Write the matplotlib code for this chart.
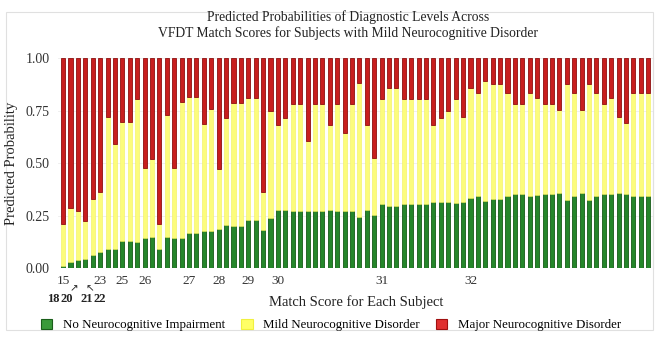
import matplotlib
matplotlib.use("Agg")
import matplotlib.pyplot as plt
import matplotlib.patches as patches
import numpy as np

# predicted probabilities for each of the 80 subjects (sorted by match score)
p_none = [0.011, 0.027, 0.040, 0.043, 0.062, 0.078, 0.090, 0.092, 0.129, 0.129,
          0.122, 0.141, 0.146, 0.090, 0.149, 0.145, 0.145, 0.165, 0.165, 0.178,
          0.176, 0.187, 0.207, 0.200, 0.200, 0.230, 0.230, 0.182, 0.237, 0.274,
          0.275, 0.272, 0.272, 0.270, 0.272, 0.272, 0.275, 0.272, 0.270, 0.272,
          0.244, 0.275, 0.253, 0.306, 0.294, 0.294, 0.306, 0.306, 0.306, 0.306,
          0.313, 0.315, 0.315, 0.308, 0.315, 0.335, 0.343, 0.318, 0.327, 0.327,
          0.343, 0.351, 0.351, 0.343, 0.348, 0.351, 0.351, 0.356, 0.324, 0.343,
          0.356, 0.324, 0.343, 0.351, 0.351, 0.356, 0.351, 0.343, 0.343, 0.343]
p_mild = [0.199, 0.261, 0.230, 0.183, 0.267, 0.282, 0.628, 0.498, 0.569, 0.569,
          0.682, 0.334, 0.372, 0.120, 0.578, 0.330, 0.648, 0.652, 0.652, 0.507,
          0.581, 0.286, 0.510, 0.584, 0.584, 0.580, 0.580, 0.178, 0.512, 0.406,
          0.441, 0.508, 0.508, 0.335, 0.508, 0.508, 0.405, 0.508, 0.372, 0.508,
          0.636, 0.405, 0.270, 0.501, 0.563, 0.563, 0.501, 0.501, 0.501, 0.501,
          0.370, 0.402, 0.434, 0.499, 0.403, 0.522, 0.491, 0.574, 0.551, 0.551,
          0.490, 0.429, 0.429, 0.491, 0.461, 0.429, 0.429, 0.397, 0.554, 0.491,
          0.397, 0.554, 0.491, 0.432, 0.458, 0.365, 0.339, 0.491, 0.491, 0.491]

# match score labels under the first subject of each score group
tick_pos = [0, 5, 8, 11, 17, 21, 25, 29, 43, 55]
tick_labels = ["15", "23", "25", "26", "27", "28", "29", "30", "31", "32"]
# scores squeezed into the first few subjects, written on a second row
extra_labels = ["18", "20", "21", "22"]
extra_pos = [-1.3, 0.5, 3.2, 5.0]

legend_labels = ["No Neurocognitive Impairment", "Mild Neurocognitive Disorder",
                 "Major Neurocognitive Disorder"]

plt.rcParams['font.family'] = ['Liberation Serif', 'DejaVu Sans']

none = np.array(p_none)
mild = np.array(p_mild)
major = 1.0 - none - mild
x = np.arange(len(none))

fig = plt.figure(figsize=(6.66, 3.44), dpi=100)
ax = fig.add_axes([0.087, 0.221, 0.893, 0.61])

w = 0.55
ax.bar(x, none, width=w, color='#25862a', edgecolor='#175a17', linewidth=0.6, zorder=2)
ax.bar(x, mild, width=w, bottom=none, color='#fcfc7c', edgecolor='#f2f25a', linewidth=0.4, zorder=2)
ax.bar(x, major, width=w, bottom=none + mild, color='#c81e1e', edgecolor='#8e1010', linewidth=0.6, zorder=2)

ax.set_xlim(-0.7, 79.6)
ax.set_ylim(0, 1)
ax.set_yticks([0, 0.25, 0.5, 0.75, 1.0])
ax.set_yticklabels(["0.00", "0.25", "0.50", "0.75", "1.00"], fontsize=10, color='#333333')
ax.set_xticks(tick_pos)
ax.set_xticklabels(tick_labels, fontsize=9.5, color='#333333')
ax.tick_params(axis='both', length=0)
ax.tick_params(axis='x', pad=5)
ax.tick_params(axis='y', pad=6)
ax.grid(axis='y', color='#ececec', linewidth=0.6, zorder=0)
for s in ['top', 'left', 'bottom']:
    ax.spines[s].set_visible(False)
ax.spines['right'].set_color('#dddddd')
ax.spines['right'].set_linewidth(0.8)

# second row of score labels and the little arrows
trans = ax.get_xaxis_transform()
for lab, pos in zip(extra_labels, extra_pos):
    ax.text(pos, -0.148, lab, transform=trans, ha='center', va='center',
            fontsize=9, fontweight='bold', color='#222222')
ax.text(1.45, -0.097, "\u2197", transform=trans, ha='center', va='center', fontsize=7.5,
        family=['DejaVu Sans'], color='#222222')
ax.text(3.55, -0.095, "\u2196", transform=trans, ha='center', va='center', fontsize=7.5,
        family=['DejaVu Sans'], color='#222222')

fig.text(0.018, 0.526, "Predicted Probability", rotation=90, ha='center', va='center',
         fontsize=10.5, color='#222222')
fig.text(0.535, 0.122, "Match Score for Each Subject", ha='center', va='center',
         fontsize=10.5, color='#222222')
fig.text(0.523, 0.926, "Predicted Probabilities of Diagnostic Levels Across\n"
         "VFDT Match Scores for Subjects with Mild Neurocognitive Disorder",
         ha='center', va='center', fontsize=9.8, color='#222222', linespacing=1.2)

handles = [patches.Patch(facecolor='#3a9a3a', edgecolor='#1a5e1a', linewidth=0.8),
           patches.Patch(facecolor='#ffff66', edgecolor='#f0f040', linewidth=0.8),
           patches.Patch(facecolor='#e03030', edgecolor='#a01010', linewidth=0.8)]
fig.legend(handles, legend_labels, loc='center', bbox_to_anchor=(0.497, 0.055), ncol=3,
           frameon=False, fontsize=9.3, handlelength=0.9, handleheight=0.9,
           handletextpad=0.85, columnspacing=1.2)

# light frame around the whole figure
fig.patches.append(patches.Rectangle((0.009, 0.041), 0.971, 0.924, transform=fig.transFigure,
                                     fill=False, edgecolor='#e0e0e0', linewidth=0.8))

plt.savefig("out.png", dpi=100)
